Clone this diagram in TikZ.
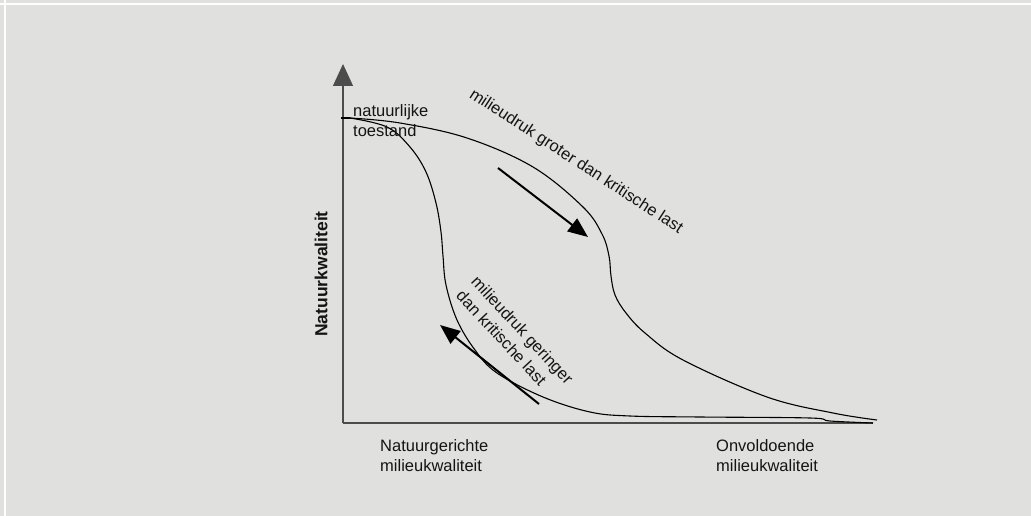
\documentclass[tikz,border=0pt]{standalone}
\usepackage{fontspec}
\setmainfont{Liberation Sans}
\usetikzlibrary{arrows.meta}
\definecolor{bggray}{RGB}{224,225,223}
\definecolor{inkgray}{RGB}{20,20,20}
\tikzset{
    curve/.style={line width=1.1pt, black},
    axis/.style={line width=1.3pt, black!70, -{Triangle[length=22pt,width=20pt]}},
    trend/.style={line width=2pt, black, -{Triangle[length=20pt,width=16pt]}},
    lbl/.style={text=inkgray, inner sep=0pt, font=\fontsize{16.5}{20.5}\selectfont},
}
\begin{document}
\begin{tikzpicture}[x=1pt,y=-1pt]
            \useasboundingbox (0,0) rectangle (1031,516);
            \fill[bggray] (0,0) rectangle (1031,516);
            \draw[white, line width=2pt] (0,4.5) -- (1031,4.5);
            \draw[white, line width=2pt] (4.5,0) -- (4.5,516);
            % axes
            \coordinate (o) at (343,423);
            \coordinate (ytop) at (343,64);
            \coordinate (xend) at (873,423);
            \draw[axis] (o) -- (ytop);
            \draw[line width=1.3pt, black!70] (o) -- (xend);
            % the two paths
            \coordinate (start) at (350,118);
            \draw[curve] (341,118) -- (start);
            \draw[curve] plot[smooth, tension=0.6] coordinates {(start) (400,123) (467,138) (533,167)
                (583,207) (602,234) (609,256) (611,276) (615,295) (626,313) (645,333) (683,360)
                (767,397) (833,413) (877,420)};
            \draw[curve] plot[smooth, tension=0.6] coordinates {(start) (387,127) (410,147) (426,172)
                (436,203) (441,232) (443,256) (446,285) (457,320) (475,350) (497,373) (543,397)
                (590,412) (630,416) (700,417) (810,418) (830,421) (873,423)};
            % trend arrows
            \coordinate (down1) at (498,168);
            \coordinate (down2) at (588,237);
            \draw[trend] (down1) -- (down2);
            \coordinate (up1) at (539,404);
            \coordinate (up2) at (440,325);
            \draw[trend] (up1) -- (up2);
            % labels
            \node (nat) [lbl, anchor=north west, align=left] at (353,104) {natuurlijke\\toestand};
            \node (groter) [lbl, rotate=-33] at (576,162) {milieudruk groter dan kritische last};
            \node (geringer) [lbl, rotate=-47, align=left] at (515,337) {milieudruk geringer\\dan kritische last};
            \node (yl) [lbl, rotate=90, font=\fontsize{17.5}{20}\bfseries] at (321,274) {Natuurkwaliteit};
            \node (links) [lbl, anchor=north west, align=left] at (380,439) {Natuurgerichte\\milieukwaliteit};
            \node (rechts) [lbl, anchor=north west, align=left] at (716,439) {Onvoldoende\\milieukwaliteit};
        \end{tikzpicture}
\end{document}
